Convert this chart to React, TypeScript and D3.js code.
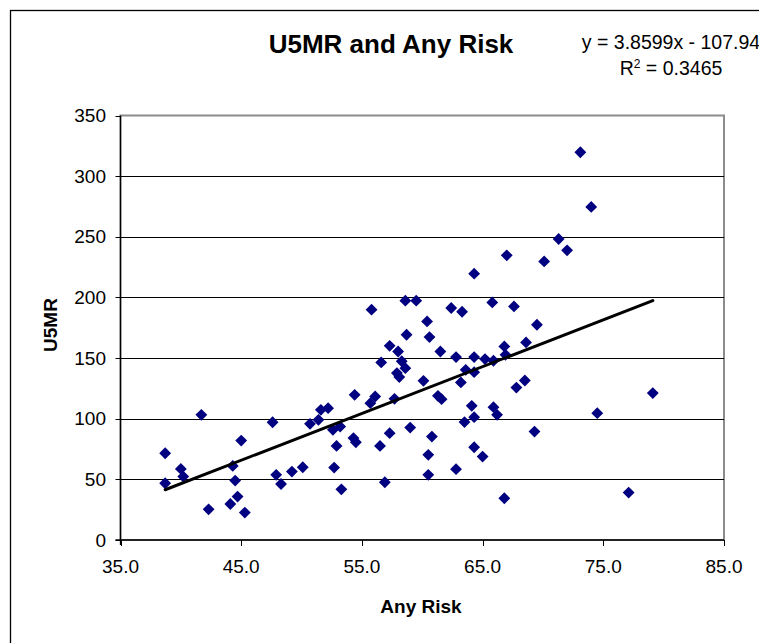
import React from "react";
import * as d3 from "d3";

const anyRisk = [
  38.7, 38.7, 40.0, 40.2, 41.7, 42.3, 44.1, 44.3, 44.5, 44.7,
  45.0, 45.3, 47.6, 47.9, 48.3, 49.2, 50.1, 50.7, 51.4, 51.6,
  52.2, 52.6, 52.7, 52.9, 53.2, 53.3, 54.3, 54.5, 54.4, 55.7,
  56.1, 55.8, 56.5, 56.6, 56.9, 57.3, 57.3, 57.7, 58.0, 57.9,
  58.1, 58.3, 58.6, 58.7, 58.6, 59.0, 59.5, 60.1, 60.4, 60.6,
  60.5, 60.5, 60.8, 61.3, 61.6, 61.5, 62.4, 62.8, 62.8, 63.2,
  63.3, 63.5, 63.6, 64.1, 64.3, 64.3, 64.3, 64.3, 64.3, 65.0,
  65.2, 65.8, 65.9, 65.9, 66.2, 66.8, 66.9, 67.0, 66.8, 67.6,
  67.8, 68.5, 68.6, 69.3, 69.5, 70.1, 71.3, 72.0, 73.1, 74.0,
  74.5, 77.1, 79.1,
];
const u5mr = [
  71.5, 46.8, 58.6, 52.3, 103.2, 25.3, 29.7, 61.1, 49.0, 35.8,
  82.0, 22.6, 97.1, 53.7, 46.2, 56.4, 60.0, 95.8, 99.1, 107.3,
  108.7, 90.8, 59.7, 77.6, 93.5, 41.8, 84.0, 80.6, 119.7, 112.8,
  118.3, 189.9, 77.6, 146.4, 47.6, 160.1, 88.1, 116.4, 155.4, 137.6,
  134.3, 147.4, 141.7, 169.2, 197.3, 92.7, 197.3, 131.2, 180.2, 167.3,
  70.2, 53.7, 85.3, 118.9, 116.1, 155.4, 191.3, 150.8, 58.4, 129.9,
  188.2, 97.2, 140.3, 110.6, 101.3, 138.4, 150.8, 76.5, 219.6, 68.8,
  149.2, 195.9, 147.8, 109.5, 103.2, 159.6, 152.7, 234.7, 34.4, 192.6,
  125.7, 131.5, 162.9, 89.4, 177.5, 229.7, 248.2, 238.8, 319.7, 274.6,
  104.6, 39.1, 121.1,
];
const xTicks = [35, 45, 55, 65, 75, 85];
const yTicks = [0, 50, 100, 150, 200, 250, 300, 350];
const slope = 3.8599;
const intercept = -107.94;
const title = "U5MR and Any Risk";
const xTitle = "Any Risk";
const yTitle = "U5MR";
const eqText = "y = 3.8599x - 107.94";
const r2Value = "0.3465";

const W = 759;
const H = 643;
const FONT = "'Liberation Sans', Arial, sans-serif";

export default function App() {
  const x = d3.scaleLinear().domain([35, 85]).range([120.5, 724]);
  const y = d3.scaleLinear().domain([0, 350]).range([540, 115.5]);
  const pts = anyRisk.map((v, i) => ({ x: v, y: u5mr[i] }));
  const xmin = d3.min(anyRisk) as number;
  const xmax = d3.max(anyRisk) as number;
  const trend = d3
    .line<number>()
    .x((d) => x(d))
    .y((d) => y(slope * d + intercept))([xmin, xmax]) as string;
  const diamond = d3.symbol().type(d3.symbolSquare).size(70)() as string;

  return (
    <svg
      width={W}
      height={H}
      style={{ position: "absolute", left: 0, top: 0, background: "#fff" }}
      fontFamily={FONT}
    >
      <rect x={10.5} y={10.5} width={1000} height={1000} fill="#fff" stroke="#000" strokeWidth={1.3} />
      {/* plot area */}
      <rect x={x(35)} y={y(350)} width={x(85) - x(35)} height={y(0) - y(350)} fill="#fff" stroke="#8c8c8c" strokeWidth={2} />
      {yTicks.filter((t) => t > 0 && t < 350).map((t) => (
        <line key={"g" + t} x1={x(35)} x2={x(85)} y1={Math.round(y(t)) + 0.5} y2={Math.round(y(t)) + 0.5} stroke="#000" strokeWidth={1} />
      ))}
      {/* axes */}
      <line x1={x(35)} x2={x(35)} y1={y(350)} y2={y(0) + 5} stroke="#000" strokeWidth={1.3} />
      <line x1={x(35) - 5} x2={x(85)} y1={y(0)} y2={y(0)} stroke="#000" strokeWidth={1.3} />
      {yTicks.map((t) => (
        <g key={"y" + t}>
          <line x1={x(35) - 5} x2={x(35)} y1={Math.round(y(t)) + 0.5} y2={Math.round(y(t)) + 0.5} stroke="#000" strokeWidth={1} />
          <text x={106} y={y(t)} dy="0.35em" textAnchor="end" fontSize={19} fill="#000">
            {t}
          </text>
        </g>
      ))}
      {xTicks.map((t) => (
        <g key={"x" + t}>
          <line x1={Math.round(x(t)) + 0.5} x2={Math.round(x(t)) + 0.5} y1={y(0)} y2={y(0) + 6} stroke="#000" strokeWidth={1} />
          <text x={x(t)} y={573} textAnchor="middle" fontSize={19} fill="#000">
            {t.toFixed(1)}
          </text>
        </g>
      ))}
      {/* points */}
      {pts.map((p, i) => (
        <path key={i} d={diamond} transform={`translate(${x(p.x)},${y(p.y)}) rotate(45)`} fill="#000080" />
      ))}
      {/* trendline */}
      <path d={trend} fill="none" stroke="#000" strokeWidth={3} strokeLinecap="round" />
      {/* titles */}
      <text x={391} y={52.5} textAnchor="middle" fontSize={26} fontWeight="bold" fill="#000">
        {title}
      </text>
      <text x={421} y={613} textAnchor="middle" fontSize={19} fontWeight="bold" fill="#000">
        {xTitle}
      </text>
      <text transform="translate(57,325) rotate(-90)" textAnchor="middle" fontSize={19} fontWeight="bold" fill="#000">
        {yTitle}
      </text>
      <text x={671} y={49.3} textAnchor="middle" fontSize={19.5} fill="#000">
        {eqText}
      </text>
      <text x={671} y={75} textAnchor="middle" fontSize={19.5} fill="#000">
        R<tspan fontSize={12} dy={-7}>2</tspan>
        <tspan dy={7}>{" = " + r2Value}</tspan>
      </text>
    </svg>
  );
}
